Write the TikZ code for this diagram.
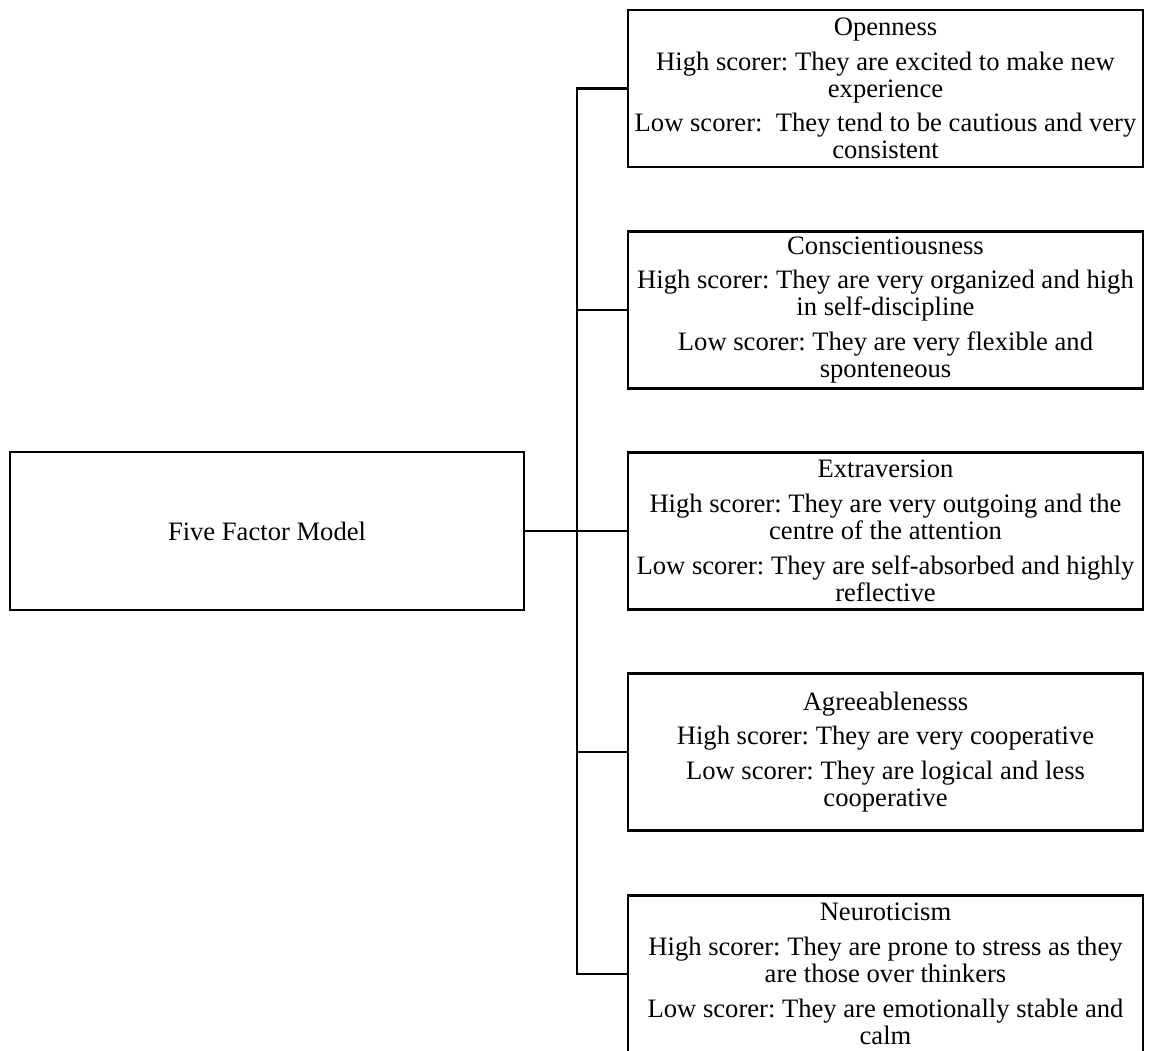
\documentclass[tikz,border=0pt]{standalone}
\usepackage{fontspec}
\setmainfont{Liberation Serif}
\usetikzlibrary{positioning}
\frenchspacing
\tikzset{factor/.style={draw,line width=1.3pt,minimum width=257.5pt,minimum height=78.5pt,
                        inner sep=2pt,align=center,font=\fontsize{13.3}{13.5}\selectfont},
         link/.style={line width=1.3pt}}

\begin{document}
\begin{tikzpicture}[x=0.5pt,y=-0.5pt]
\useasboundingbox (0,0) rectangle (1150,1050);
\clip (0,0) rectangle (1150,1050);
\def\bx{885.5}
% model
\node[factor,minimum width=257pt,minimum height=79pt] (ffm) at (267,531) {Five Factor Model};
% traits
\node[factor] (open) at (\bx,88.5) {Openness\\[3.9pt]
   High scorer: They are excited to make new\\ experience\\[3.9pt]
   Low scorer:\ \ They tend to be cautious and very\\ consistent};
\node[factor] (consc) at (\bx,310) {Conscientiousness\\[3.9pt]
   High scorer: They are very organized and high\\ in self-discipline\\[3.9pt]
   Low scorer: They are very flexible and\\ sponteneous};
\node[factor] (extra) at (\bx,531) {Extraversion\\[3.9pt]
   High scorer: They are very outgoing and the\\ centre of the attention\\[3.9pt]
   Low scorer: They are self-absorbed and highly\\ reflective};
\node[factor] (agree) at (\bx,752) {Agreeablenesss\\[3.9pt]
   High scorer: They are very cooperative\\[3.9pt]
   Low scorer: They are logical and less\\ cooperative};
\node[factor] (neuro) at (\bx,974) {Neuroticism\\[3.9pt]
   High scorer: They are prone to stress as they\\ are those over thinkers\\[3.9pt]
   Low scorer: They are emotionally stable and\\ calm};
% tree lines
\coordinate (hub) at (577,531);
\draw[link] (ffm.east) -- (hub);
\draw[link] (hub) |- (open.west);
\draw[link] (hub) |- (consc.west);
\draw[link] (hub) -- (extra.west);
\draw[link] (hub) |- (agree.west);
\draw[link] (hub) |- (neuro.west);
\end{tikzpicture}
\end{document}
